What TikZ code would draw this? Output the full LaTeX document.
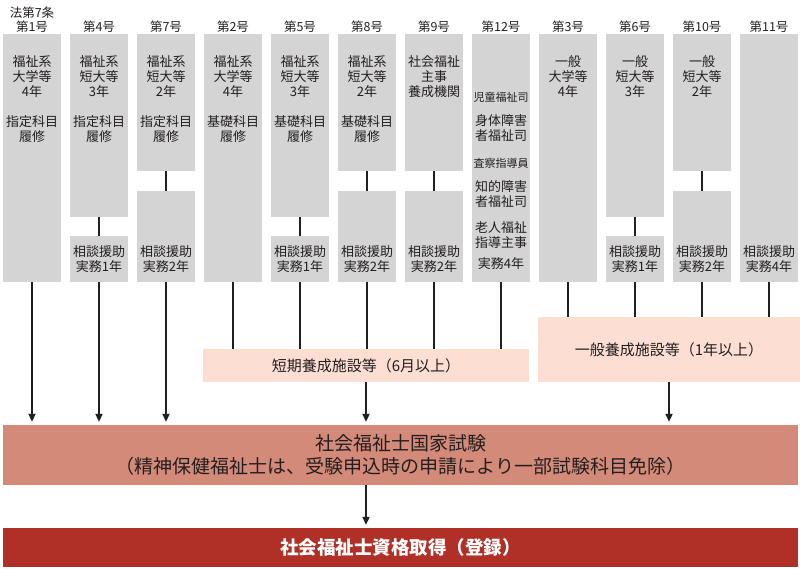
\documentclass[tikz,border=0pt]{standalone}
\usepackage{fontspec}
\setmainfont{Noto Sans CJK JP}
\usepackage{tikz}
\usetikzlibrary{arrows.meta,positioning}
\usepackage{xcolor}
\definecolor{kbgray}{RGB}{212,212,212}
\definecolor{kbpink}{RGB}{252,222,210}
\definecolor{kbsalmon}{RGB}{212,138,120}
\definecolor{kbred}{RGB}{176,47,38}
\definecolor{kbtext}{RGB}{35,31,32}
\tikzstyle{course} = [rectangle, fill=kbgray, minimum width=58pt, inner sep=0pt]
\tikzstyle{label} = [inner sep=0pt, align=center, text=kbtext, font=\fontsize{13}{15}\selectfont]
\tikzstyle{head} = [inner sep=0pt, align=center, text=kbtext, font=\fontsize{12.5}{14}\selectfont]
\tikzstyle{facility} = [rectangle, fill=kbpink, inner sep=0pt, text=kbtext, font=\fontsize{15}{18}\selectfont]
\tikzstyle{link} = [line width=2.6pt, color=kbtext]
\tikzstyle{arrow} = [line width=2pt, color=kbtext, -{Triangle[length=8pt,width=7pt]}, shorten >=3pt]

\begin{document}
\begin{tikzpicture}[x=1pt, y=-1pt]
    \useasboundingbox (0,0) rectangle (800,569);

    % Headers
    \node[head] (h1) at (32,20) {法第7条\\第1号};
    \node[head] (h4) at (99,27) {第4号};
    \node[head] (h7) at (166,27) {第7号};
    \node[head] (h2) at (233,27) {第2号};
    \node[head] (h5) at (300,27) {第5号};
    \node[head] (h8) at (367,27) {第8号};
    \node[head] (h9) at (434,27) {第9号};
    \node[head] (h12) at (501,27) {第12号};
    \node[head] (h3) at (568,27) {第3号};
    \node[head] (h6) at (635,27) {第6号};
    \node[head] (h10) at (702,27) {第10号};
    \node[head] (h11) at (769,27) {第11号};

    % Courses
    \node[course, minimum height=248pt] (g1) at (32,158) {};
    \node[course, minimum height=183pt] (g4) at (99,125.5) {};
    \node[course, minimum height=46pt] (g4job) at (99,259) {};
    \node[course, minimum height=137pt] (g7) at (166,102.5) {};
    \node[course, minimum height=91pt] (g7job) at (166,236.5) {};
    \node[course, minimum height=248pt] (g2) at (233,158) {};
    \node[course, minimum height=183pt] (g5) at (300,125.5) {};
    \node[course, minimum height=46pt] (g5job) at (300,259) {};
    \node[course, minimum height=137pt] (g8) at (367,102.5) {};
    \node[course, minimum height=91pt] (g8job) at (367,236.5) {};
    \node[course, minimum height=137pt] (g9) at (434,102.5) {};
    \node[course, minimum height=91pt] (g9job) at (434,236.5) {};
    \node[course, minimum height=248pt] (g12) at (501,158) {};
    \node[course, minimum height=248pt] (g3) at (568,158) {};
    \node[course, minimum height=183pt] (g6) at (635,125.5) {};
    \node[course, minimum height=46pt] (g6job) at (635,259) {};
    \node[course, minimum height=137pt] (g10) at (702,102.5) {};
    \node[course, minimum height=91pt] (g10job) at (702,236.5) {};
    \node[course, minimum height=248pt] (g11) at (769,158) {};

    % Course texts
    \node[label] (t1) at (32,99) {福祉系\\大学等\\4年\\[15pt]指定科目\\履修};
    \node[label] (t4) at (99,99) {福祉系\\短大等\\3年\\[15pt]指定科目\\履修};
    \node[label] (t7) at (166,99) {福祉系\\短大等\\2年\\[15pt]指定科目\\履修};
    \node[label] (t2) at (233,99) {福祉系\\大学等\\4年\\[15pt]基礎科目\\履修};
    \node[label] (t5) at (300,99) {福祉系\\短大等\\3年\\[15pt]基礎科目\\履修};
    \node[label] (t8) at (367,99) {福祉系\\短大等\\2年\\[15pt]基礎科目\\履修};
    \node[label] (t9) at (434,77) {社会福祉\\主事\\養成機関};
    \node[label] (t12) at (501,180.5) {{\fontsize{11}{15}\selectfont 児童福祉司}\\[9pt]身体障害\\者福祉司\\[12pt]{\fontsize{11}{15}\selectfont 査察指導員}\\[9pt]知的障害\\者福祉司\\[11pt]老人福祉\\指導主事\\[6pt]実務4年};
    \node[label] (t3) at (568,77) {一般\\大学等\\4年};
    \node[label] (t6) at (635,77) {一般\\短大等\\3年};
    \node[label] (t10) at (702,77) {一般\\短大等\\2年};
    \node[label] (t11) at (769,259.5) {相談援助\\実務4年};
    \node[label] (t4job) at (99,259.5) {相談援助\\実務1年};
    \node[label] (t7job) at (166,259.5) {相談援助\\実務2年};
    \node[label] (t5job) at (300,259.5) {相談援助\\実務1年};
    \node[label] (t8job) at (367,259.5) {相談援助\\実務2年};
    \node[label] (t9job) at (434,259.5) {相談援助\\実務2年};
    \node[label] (t6job) at (635,259.5) {相談援助\\実務1年};
    \node[label] (t10job) at (702,259.5) {相談援助\\実務2年};

    % Facilities
    \node[facility, minimum width=326pt, minimum height=33pt] (short) at (366,365.5) {短期養成施設等（6月以上）};
    \node[facility, minimum width=262pt, minimum height=65pt] (general) at (669,349.5) {一般養成施設等（1年以上）};

    % Exam and registration
    \node[rectangle, fill=kbsalmon, minimum width=795pt, minimum height=60pt, inner sep=0pt, align=center, text=kbtext,
          font=\fontsize{19}{23}\selectfont] (exam) at (400.5,455) {社会福祉士国家試験\\（精神保健福祉士は、受験申込時の申請により一部試験科目免除）};
    \node[rectangle, fill=kbred, minimum width=795pt, minimum height=39pt, inner sep=0pt, text=white,
          font=\fontsize{18.5}{22}\selectfont\bfseries] (final) at (400.5,547.5) {社会福祉士資格取得（登録）};

    % Links inside columns
    \draw[link] (g4) -- (g4job);
    \draw[link] (g7) -- (g7job);
    \draw[link] (g5) -- (g5job);
    \draw[link] (g8) -- (g8job);
    \draw[link] (g9) -- (g9job);
    \draw[link] (g6) -- (g6job);
    \draw[link] (g10) -- (g10job);

    % Direct routes
    \draw[arrow] (g1.south) -- (g1.south |- exam.north);
    \draw[arrow] (g4job.south) -- (g4job.south |- exam.north);
    \draw[arrow] (g7job.south) -- (g7job.south |- exam.north);

    % Routes via facilities
    \draw[link] (g2.south) -- (g2.south |- short.north);
    \draw[link] (g5job.south) -- (g5job.south |- short.north);
    \draw[link] (g8job.south) -- (g8job.south |- short.north);
    \draw[link] (g9job.south) -- (g9job.south |- short.north);
    \draw[link] (g12.south) -- (g12.south |- short.north);
    \draw[link] (g3.south) -- (g3.south |- general.north);
    \draw[link] (g6job.south) -- (g6job.south |- general.north);
    \draw[link] (g10job.south) -- (g10job.south |- general.north);
    \draw[link] (g11.south) -- (g11.south |- general.north);

    \draw[arrow] (short.south) -- (short.south |- exam.north);
    \draw[arrow] (general.south) -- (general.south |- exam.north);
    \draw[arrow] (short.south |- exam.south) -- (short.south |- final.north);
\end{tikzpicture}
\end{document}
